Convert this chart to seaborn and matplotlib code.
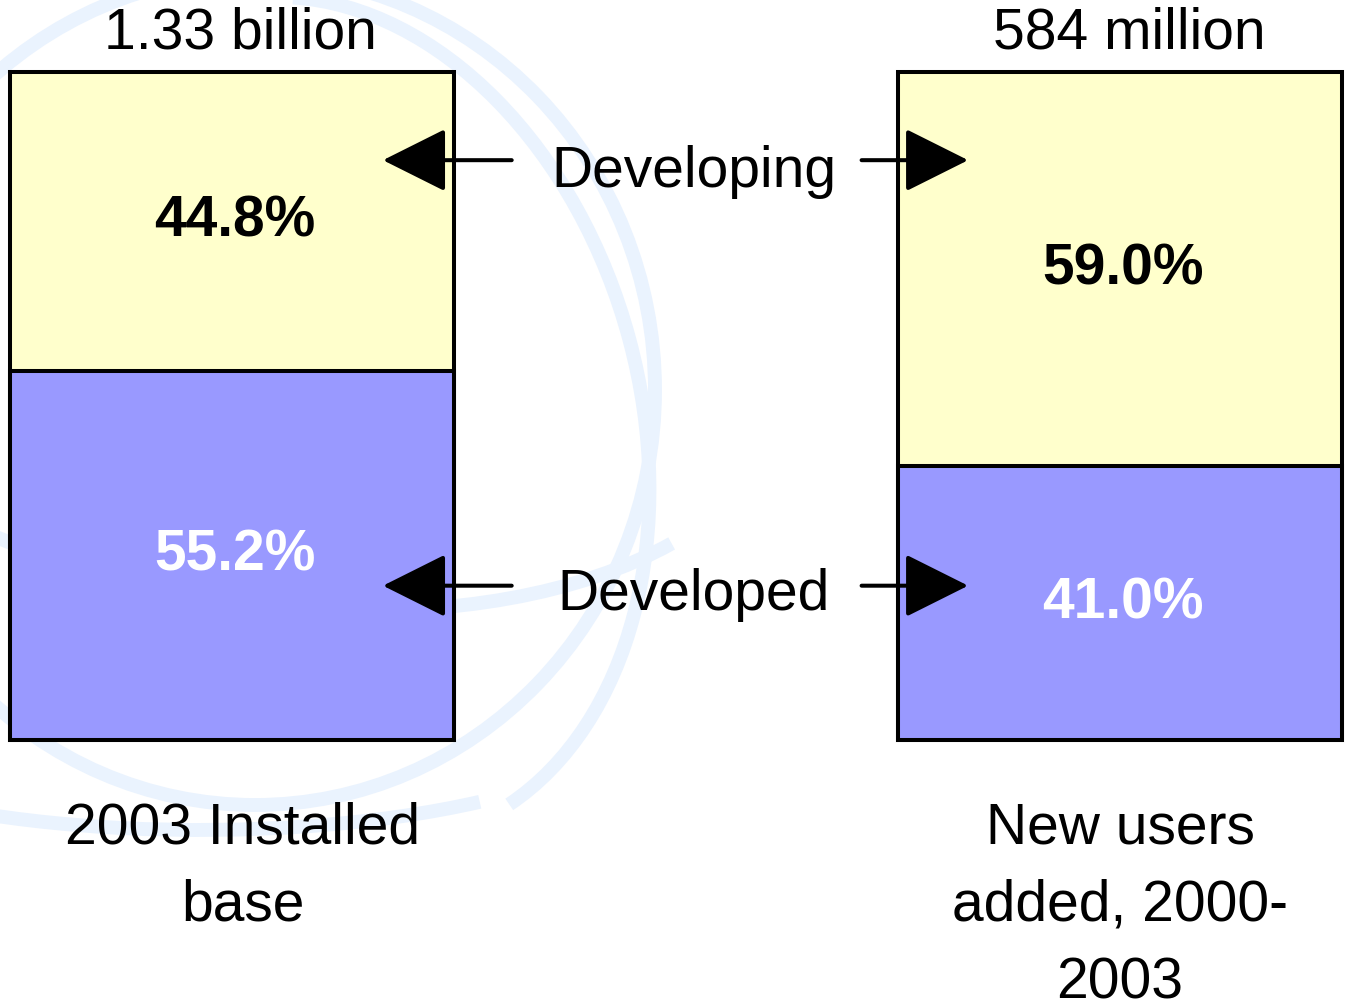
import numpy as np
import matplotlib
matplotlib.use("Agg")
import matplotlib.pyplot as plt
from matplotlib.patches import Ellipse, Arc
import seaborn as sns

# chart data
categories = ["2003 Installed\nbase", "New users\nadded, 2000-\n2003"]
totals_text = ["1.33 billion", "584 million"]
developed = [55.2, 41.0]
developing = [44.8, 59.0]
series_names = ["Developing", "Developed"]

YELLOW = "#FFFFCC"
PURPLE = "#9999FF"
WATER = "#EAF3FE"

sns.set_theme(style="white")
plt.rcParams["font.family"] = ["Liberation Sans", "DejaVu Sans"]
plt.rcParams["text.color"] = "black"
plt.rcParams["xtick.color"] = "black"

W, H = 1345, 1005
fig = plt.figure(figsize=(W / 100, H / 100), dpi=100)
fig.patch.set_facecolor("white")

# faint globe watermark in the background
bg = fig.add_axes([0, 0, 1, 1], zorder=0)
bg.set_xlim(0, W)
bg.set_ylim(H, 0)
bg.axis("off")
bg.add_patch(Ellipse((255, 390), 800, 830, fill=False, edgecolor=WATER, lw=10))
bg.add_patch(Arc((330, 420), 620, 860, angle=-15, theta1=-80, theta2=80,
                 edgecolor=WATER, lw=10))
bg.add_patch(Arc((250, 300), 1100, 600, angle=10, theta1=20, theta2=140,
                 edgecolor=WATER, lw=10))
bg.add_patch(Arc((130, 190), 260, 300, angle=0, theta1=-20, theta2=120,
                 edgecolor=WATER, lw=10))
bg.add_patch(Arc((200, 700), 900, 260, angle=0, theta1=20, theta2=170,
                 edgecolor=WATER, lw=10))

ax = fig.add_axes([10 / W, (H - 740) / H, 1332 / W, 668 / H], zorder=1)
ax.patch.set_alpha(0)

totals = [a + b for a, b in zip(developed, developing)]
sns.barplot(x=categories, y=totals, color=YELLOW, saturation=1, width=0.5,
            edgecolor="black", linewidth=2.9, ax=ax)
sns.barplot(x=categories, y=developed, color=PURPLE, saturation=1, width=0.5,
            edgecolor="black", linewidth=2.9, ax=ax)
for p in ax.patches:
    p.set_clip_on(False)

ax.set_xlim(-0.25, 1.25)
ax.set_ylim(0, 100)
ax.set_yticks([])
ax.set_ylabel("")
sns.despine(ax=ax, left=True, bottom=True)
ax.tick_params(axis="x", length=0, pad=44)
ax.set_xticks([0.012, 1.0])
ax.set_xticklabels(categories, fontsize=41, linespacing=1.56)

for i in range(len(categories)):
    ax.text(i + 0.003, developed[i] / 2, f"{developed[i]:.1f}%", ha="center",
            va="center", fontsize=41, fontweight="bold", color="white")
    ax.text(i + 0.003, developed[i] + developing[i] / 2, f"{developing[i]:.1f}%",
            ha="center", va="center", fontsize=41, fontweight="bold",
            color="black")
    ax.annotate(totals_text[i], (i + 0.01, 100), xytext=(0, 8),
                textcoords="offset points", ha="center", va="bottom",
                fontsize=41)

# pointer labels with arrows to both bars
for name, y_txt, y_arr in zip(series_names, [82.8, 19.5], [86.8, 23.1]):
    ax.text(0.52, y_txt, name, ha="center", va="baseline", fontsize=41)
    arrow = dict(arrowstyle="-|>,head_length=2.0,head_width=1.0",
                 mutation_scale=20, lw=2.9, color="black",
                 shrinkA=0, shrinkB=0)
    ax.annotate("", xy=(0.17, y_arr), xytext=(0.315, y_arr),
                arrowprops=arrow)
    ax.annotate("", xy=(0.829, y_arr), xytext=(0.709, y_arr),
                arrowprops=arrow)

fig.savefig("out.png", dpi=100, facecolor="white")
